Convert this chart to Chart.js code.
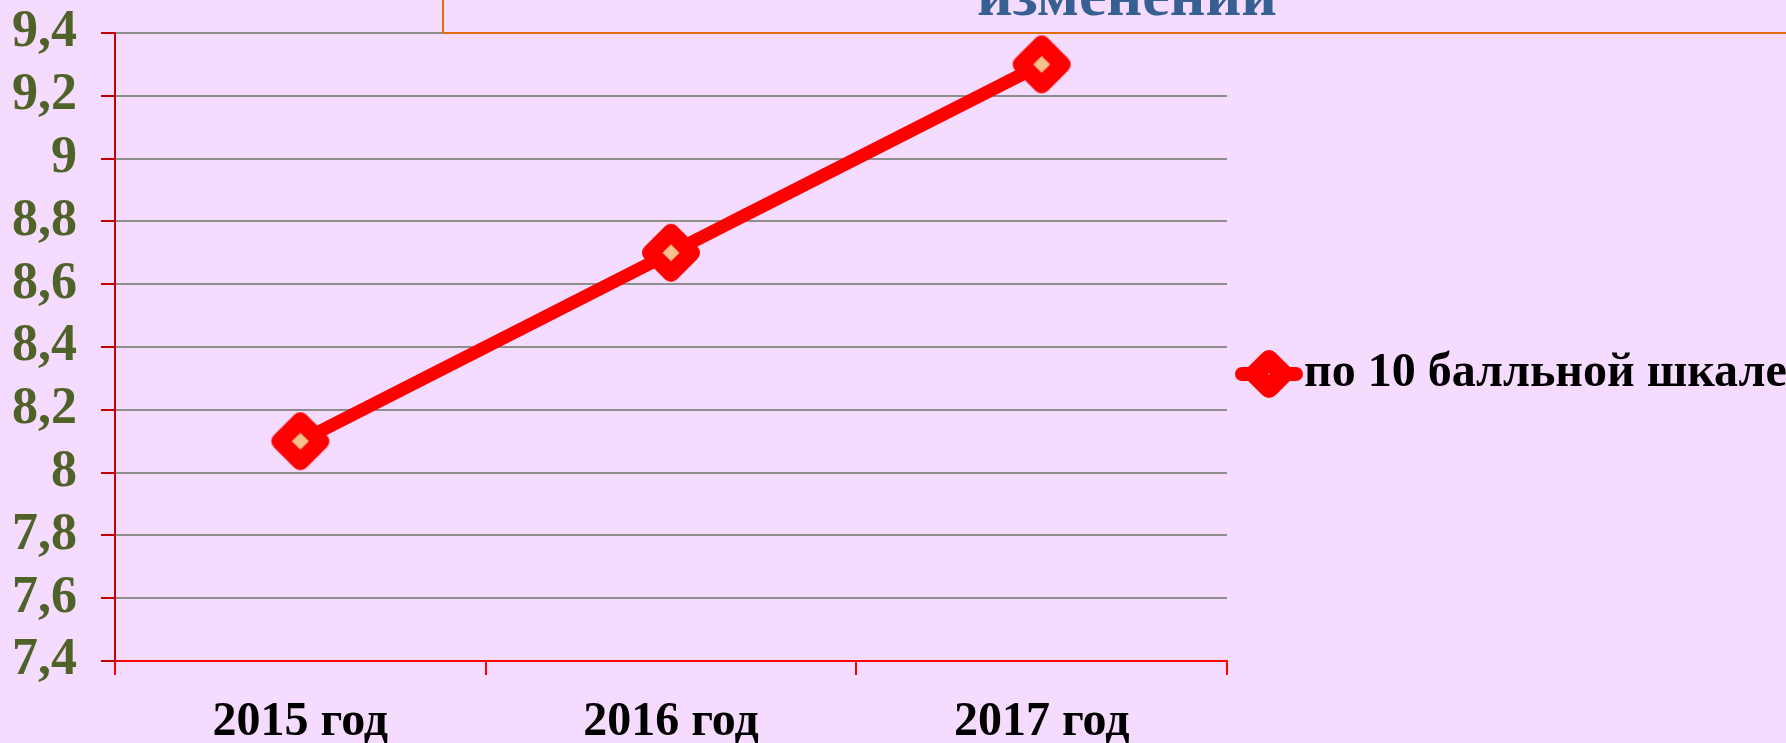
<!DOCTYPE html>
<html lang="ru">
<head>
<meta charset="UTF-8">
<title>по 10 балльной шкале</title>
<script src="https://cdn.jsdelivr.net/npm/chart.js@4"></script>
<style>
  html, body {
    margin: 0;
    padding: 0;
    background: #F5DBFE;
  }
  #chart {
    display: block;
  }
</style>
</head>
<body>
<canvas id="chart" width="1786" height="743"></canvas>
<script>
// chart data
const years = ['2015 год', '2016 год', '2017 год'];
const scores = [8.1, 8.7, 9.3];
const yTicks = ['7,4', '7,6', '7,8', '8', '8,2', '8,4', '8,6', '8,8', '9', '9,2', '9,4'];
const seriesName = 'по 10 балльной шкале';
const titleTail = 'изменений';

const serif = '"Liberation Serif", "Times New Roman", serif';
const bgColor = '#F5DBFE';

// rounded diamond marker drawn once into a small canvas
function diamond(ctx, cx, cy, r, bw) {
    ctx.beginPath();
    ctx.moveTo(cx, cy - r);
    ctx.lineTo(cx + r, cy);
    ctx.lineTo(cx, cy + r);
    ctx.lineTo(cx - r, cy);
    ctx.closePath();
    ctx.fillStyle = '#FABF8F';
    ctx.fill();
    ctx.lineJoin = 'round';
    ctx.lineWidth = bw;
    ctx.strokeStyle = '#FF0000';
    ctx.stroke();
}

const pointImg = document.createElement('canvas');
pointImg.width = 62;
pointImg.height = 62;
diamond(pointImg.getContext('2d'), 31, 31, 20.5, 17);

const legendImg = document.createElement('canvas');
legendImg.width = 68;
legendImg.height = 52;
(function () {
    const c = legendImg.getContext('2d');
    c.beginPath();
    c.moveTo(7, 26);
    c.lineTo(61, 26);
    c.lineCap = 'round';
    c.lineWidth = 14;
    c.strokeStyle = '#FF0000';
    c.stroke();
    diamond(c, 34, 26, 14.4, 19);
})();

// page background + the cut-off title box at the top
const decor = {
    id: 'decor',
    beforeDraw(chart) {
        const ctx = chart.ctx;
        ctx.save();
        ctx.fillStyle = bgColor;
        ctx.fillRect(0, 0, chart.width, chart.height);
        ctx.restore();
    },
    afterDraw(chart) {
        const ctx = chart.ctx;
        ctx.save();
        ctx.fillStyle = '#376092';
        ctx.font = 'bold 62px ' + serif;
        ctx.textAlign = 'center';
        ctx.textBaseline = 'alphabetic';
        ctx.fillText(titleTail, 1127, 15);
        ctx.strokeStyle = '#E46C0A';
        ctx.lineWidth = 2;
        ctx.beginPath();
        ctx.moveTo(443, 0);
        ctx.lineTo(443, 33);
        ctx.lineTo(chart.width, 33);
        ctx.stroke();
        ctx.restore();
    }
};

// fixed legend column width
const legendWidth = {
    id: 'legendWidth',
    afterInit(chart) {
        const lg = chart.legend;
        const fit = lg.fit.bind(lg);
        lg.fit = function () {
            fit();
            this.width = 1786 - 1227;
        };
    }
};

const ctx = document.getElementById('chart').getContext('2d');
new Chart(ctx, {
    type: 'line',
    data: {
        labels: years,
        datasets: [{
            label: seriesName,
            data: scores,
            borderColor: '#FF0000',
            borderWidth: 13,
            borderCapStyle: 'round',
            tension: 0,
            pointStyle: pointImg,
            pointRadius: 20
        }]
    },
    options: {
        responsive: false,
        devicePixelRatio: 1,
        animation: false,
        layout: { padding: { top: 5 } },
        plugins: {
            title: { display: false },
            tooltip: { enabled: false },
            legend: {
                position: 'right',
                labels: {
                    usePointStyle: true,
                    pointStyle: legendImg,
                    pointStyleWidth: 22,
                    padding: 31,
                    color: '#000000',
                    font: { family: serif, size: 48, weight: 'bold', lineHeight: 1 }
                }
            }
        },
        scales: {
            x: {
                offset: true,
                grid: {
                    display: true,
                    drawOnChartArea: false,
                    offset: true,
                    color: '#FF0000',
                    lineWidth: 2,
                    tickLength: 14
                },
                border: { display: true, color: '#FF0000', width: 2, z: 1 },
                ticks: {
                    color: '#000000',
                    padding: 24,
                    maxRotation: 0,
                    font: { family: serif, size: 48, weight: 'bold', lineHeight: 1 }
                },
                afterFit(s) {
                    s.height = 82;
                    s.paddingLeft = 0;
                    s.paddingRight = 0;
                }
            },
            y: {
                min: 7.4,
                max: 9.4,
                grid: {
                    color: '#8E8E8E',
                    lineWidth: 2,
                    tickColor: '#C00000',
                    tickLength: 14
                },
                border: { display: true, color: '#C00000', width: 2, z: 1 },
                ticks: {
                    stepSize: 0.2,
                    color: '#4F6228',
                    padding: 24,
                    font: { family: serif, size: 52, weight: 'bold', lineHeight: 1 },
                    callback: (v, i) => yTicks[i]
                },
                afterFit(s) {
                    s.width = 115;
                    s.paddingTop = 31;
                    s.paddingBottom = 0;
                }
            }
        }
    },
    plugins: [decor, legendWidth]
});
</script>
</body>
</html>
